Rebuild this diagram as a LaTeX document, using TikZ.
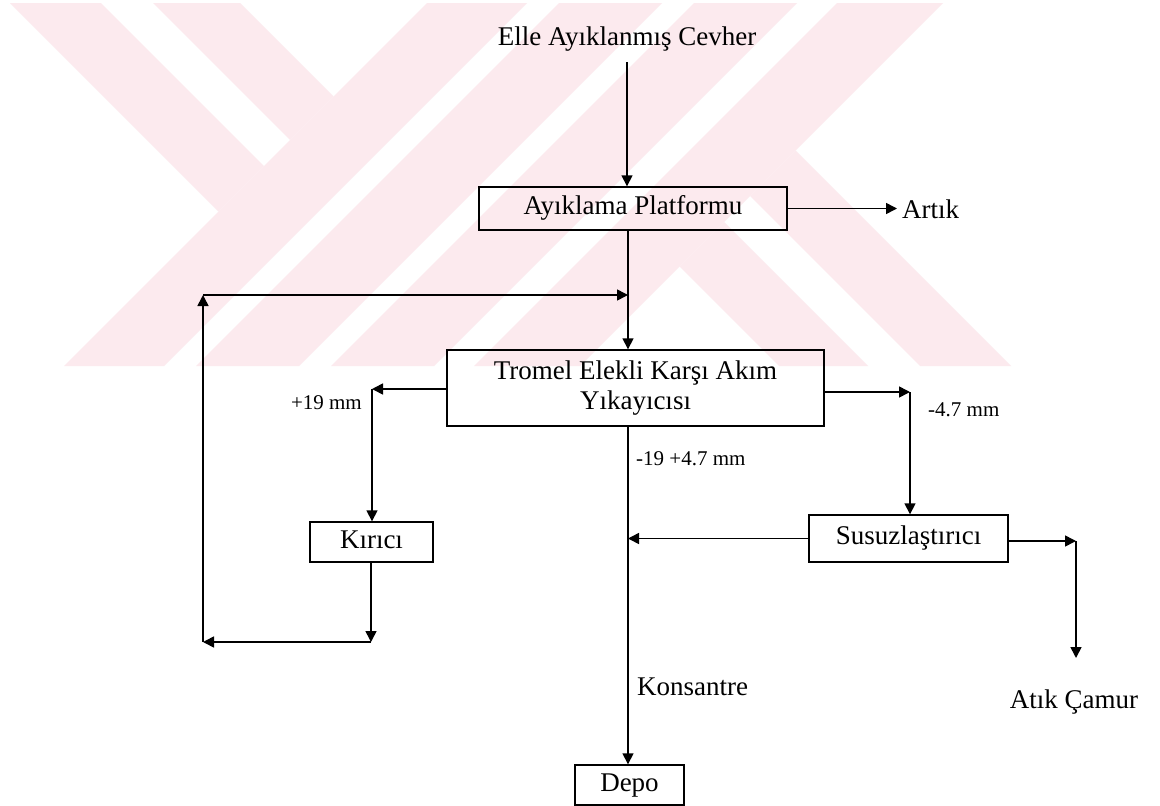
\documentclass[tikz,border=0pt]{standalone}
\usepackage{fontspec}
\setmainfont{Liberation Serif}
\usetikzlibrary{arrows.meta}
\definecolor{wmpink}{RGB}{252,234,238}
\newcommand\bigtxt{\fontsize{27}{26}\selectfont}
\newcommand\smalltxt{\fontsize{21}{24}\selectfont}
\tikzset{
  unitbox/.style={draw, line width=1.4pt, inner sep=0pt, font=\bigtxt,
                  text height=18pt, text depth=6pt},
  tallbox/.style={draw, line width=1.4pt, inner sep=0pt, font=\bigtxt, align=center},
  lbl/.style={inner sep=0pt, font=\bigtxt},
  sml/.style={inner sep=0pt, font=\smalltxt},
  flow/.style={line width=1.6pt, -{Triangle[length=11pt,width=11pt]}},
}
\begin{document}
\begin{tikzpicture}[x=1pt,y=-1pt]
\useasboundingbox (0,0) rectangle (1160,806);
\fill[white] (0,0) rectangle (1160,806);

% background emblem: diagonal stripes
\begin{scope}
  \clip (0,3) rectangle (1160,366);
  % rising stripes (x+y = const)
  \foreach \a/\b in {430/530, 562/665, 697/800, 840/946}
    \fill[wmpink] (\a-3,3) -- (\b-3,3) -- (\b-366,366) -- (\a-366,366) -- cycle;
  % upper-left falling stripes (x-y = const), ending at x+y = 430
  \foreach \a/\b in {7/98, 150/237}
    \fill[wmpink] (\a+3,3) -- (\b+3,3) -- ({(430+\b)/2},{(430-\b)/2}) -- ({(430+\a)/2},{(430-\a)/2}) -- cycle;
  % lower-right falling stripes (x-y = const), starting at x+y = 946
  \foreach \a/\b in {413/502, 554/645}
    \fill[wmpink] ({(946+\a)/2},{(946-\a)/2}) -- ({(946+\b)/2},{(946-\b)/2}) -- (\b+366,366) -- (\a+366,366) -- cycle;
\end{scope}

% process units
\node[unitbox, minimum width=308pt, minimum height=43pt] (ayk) at (633,208.5) {Ayıklama Platformu};
\node[tallbox, minimum width=377pt, minimum height=76pt] (trm) at (635.5,388) {Tromel Elekli Karşı Akım\\[4pt]Yıkayıcısı};
\node[unitbox, minimum width=123pt, minimum height=40pt] (krc) at (371.5,542) {Kırıcı};
\node[unitbox, minimum width=199pt, minimum height=47pt] (ssz) at (908.5,538.5) {Susuzlaştırıcı};
\node[unitbox, minimum width=109pt, minimum height=40pt] (dep) at (629.5,785) {Depo};

% stream names
\node[lbl, anchor=base] (src) at (627,45) {Elle Ayıklanmış Cevher};
\node[lbl, anchor=base west] (artik) at (902,218) {Artık};
\node[lbl, anchor=base west] (kons) at (637,695) {Konsantre};
\node[lbl, anchor=base] (atik) at (1074,708) {Atık Çamur};
\node[sml, anchor=base east] (p19) at (362,409) {+19 mm};
\node[sml, anchor=base west] (m47) at (928,416) {-4.7 mm};
\node[sml, anchor=base west] (mid) at (636,465) {-19 +4.7 mm};

% routing points
\coordinate (j1) at (628,295);
\coordinate (lc) at (203,295);
\coordinate (lb) at (203,642);
\coordinate (kb) at (371,642);
\coordinate (kt) at (372,389);
\coordinate (rt) at (910,392);
\coordinate (sr) at (1076,541);
\coordinate (se) at (1076,658);

% flows
\draw[flow] ([yshift=-11pt]src.south) -- (src.south |- ayk.north);
\draw[flow] (ayk.east) -- ([xshift=-5pt]artik.west |- ayk.east);
\draw[flow] (ayk.south -| j1) -- (trm.north -| j1);
\draw[flow] (trm.west |- kt) -- (kt);
\draw[flow] (kt) -- (kt |- krc.north);
\draw[flow] (krc.south -| kb) -- (kb);
\draw[flow] (kb) -- (lb);
\draw[flow] (lb) -- (lc);
\draw[flow] (lc) -- (j1);
\draw[flow] (trm.east |- rt) -- (rt);
\draw[flow] (rt) -- (rt |- ssz.north);
\draw[flow] (trm.south -| j1) -- (dep.north -| j1);
\draw[flow] (ssz.west) -- (ssz.west -| j1);
\draw[flow] (ssz.east |- sr) -- (sr);
\draw[flow] (sr) -- (se);
\end{tikzpicture}
\end{document}
